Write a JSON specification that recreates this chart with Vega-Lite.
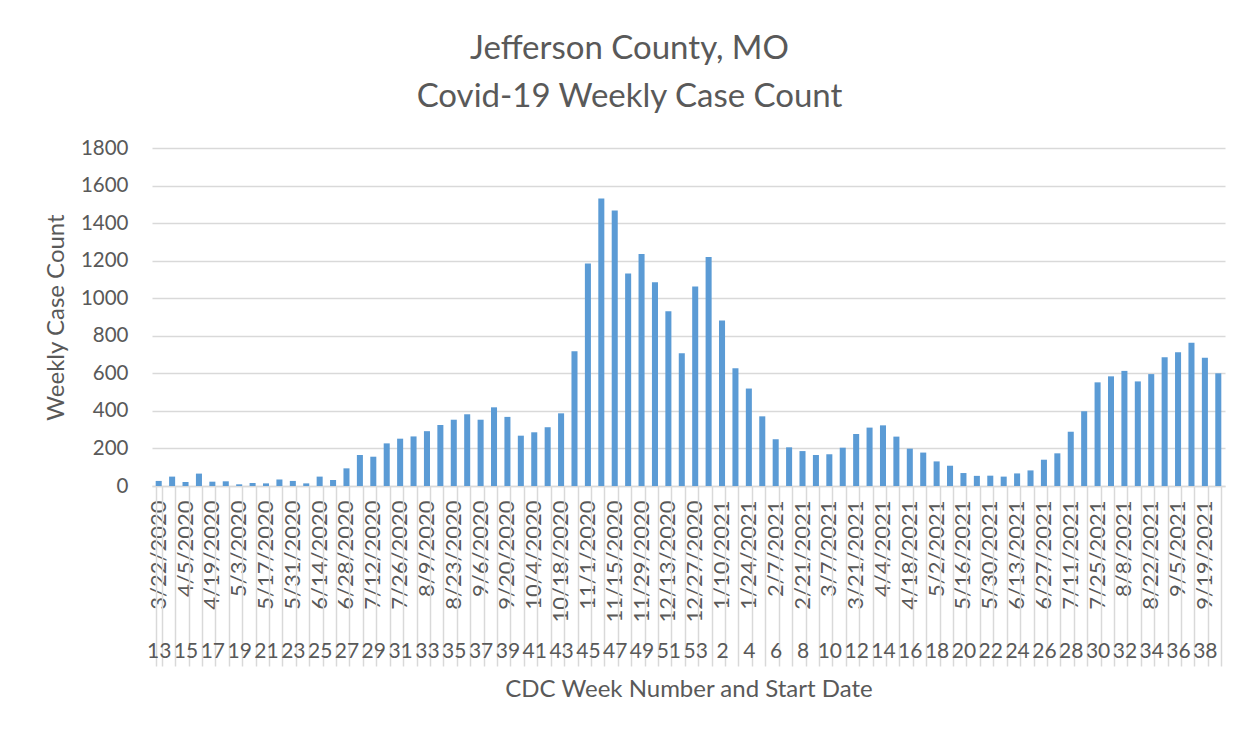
{
  "$schema": "https://vega.github.io/schema/vega-lite/v6.json",
  "autosize": "none",
  "width": 1073,
  "height": 338,
  "padding": {"left": 152, "top": 148, "right": 26, "bottom": 248},
  "background": "white",
  "title": {
    "text": ["Jefferson County, MO", "Covid-19 Weekly Case Count"],
    "font": "Lato",
    "fontSize": 33,
    "fontWeight": "normal",
    "color": "#595959",
    "anchor": "middle",
    "dx": -59,
    "offset": 24,
    "lineHeight": 48
  },
  "data": {
    "values": [
      {"key": "13|3/22/2020", "cases": 27},
      {"key": "14|3/29/2020", "cases": 50},
      {"key": "15|4/5/2020", "cases": 21},
      {"key": "16|4/12/2020", "cases": 66},
      {"key": "17|4/19/2020", "cases": 23},
      {"key": "18|4/26/2020", "cases": 25},
      {"key": "19|5/3/2020", "cases": 9},
      {"key": "20|5/10/2020", "cases": 16},
      {"key": "21|5/17/2020", "cases": 14},
      {"key": "22|5/24/2020", "cases": 34},
      {"key": "23|5/31/2020", "cases": 27},
      {"key": "24|6/7/2020", "cases": 14},
      {"key": "25|6/14/2020", "cases": 50},
      {"key": "26|6/21/2020", "cases": 32},
      {"key": "27|6/28/2020", "cases": 94},
      {"key": "28|7/5/2020", "cases": 165},
      {"key": "29|7/12/2020", "cases": 156},
      {"key": "30|7/19/2020", "cases": 227},
      {"key": "31|7/26/2020", "cases": 252},
      {"key": "32|8/2/2020", "cases": 264},
      {"key": "33|8/9/2020", "cases": 292},
      {"key": "34|8/16/2020", "cases": 325},
      {"key": "35|8/23/2020", "cases": 353},
      {"key": "36|8/30/2020", "cases": 382},
      {"key": "37|9/6/2020", "cases": 353},
      {"key": "38|9/13/2020", "cases": 419},
      {"key": "39|9/20/2020", "cases": 368},
      {"key": "40|9/27/2020", "cases": 268},
      {"key": "41|10/4/2020", "cases": 286},
      {"key": "42|10/11/2020", "cases": 313},
      {"key": "43|10/18/2020", "cases": 387},
      {"key": "44|10/25/2020", "cases": 718},
      {"key": "45|11/1/2020", "cases": 1185},
      {"key": "46|11/8/2020", "cases": 1531},
      {"key": "47|11/15/2020", "cases": 1467},
      {"key": "48|11/22/2020", "cases": 1131},
      {"key": "49|11/29/2020", "cases": 1236},
      {"key": "50|12/6/2020", "cases": 1085},
      {"key": "51|12/13/2020", "cases": 931},
      {"key": "52|12/20/2020", "cases": 707},
      {"key": "53|12/27/2020", "cases": 1062},
      {"key": "1|1/3/2021", "cases": 1220},
      {"key": "2|1/10/2021", "cases": 881},
      {"key": "3|1/17/2021", "cases": 627},
      {"key": "4|1/24/2021", "cases": 519},
      {"key": "5|1/31/2021", "cases": 371},
      {"key": "6|2/7/2021", "cases": 249},
      {"key": "7|2/14/2021", "cases": 206},
      {"key": "8|2/21/2021", "cases": 186},
      {"key": "9|2/28/2021", "cases": 165},
      {"key": "10|3/7/2021", "cases": 169},
      {"key": "11|3/14/2021", "cases": 204},
      {"key": "12|3/21/2021", "cases": 277},
      {"key": "13|3/28/2021", "cases": 311},
      {"key": "14|4/4/2021", "cases": 323},
      {"key": "15|4/11/2021", "cases": 263},
      {"key": "16|4/18/2021", "cases": 199},
      {"key": "17|4/25/2021", "cases": 178},
      {"key": "18|5/2/2021", "cases": 131},
      {"key": "19|5/9/2021", "cases": 108},
      {"key": "20|5/16/2021", "cases": 69},
      {"key": "21|5/23/2021", "cases": 54},
      {"key": "22|5/30/2021", "cases": 55},
      {"key": "23|6/6/2021", "cases": 50},
      {"key": "24|6/13/2021", "cases": 67},
      {"key": "25|6/20/2021", "cases": 83},
      {"key": "26|6/27/2021", "cases": 140},
      {"key": "27|7/4/2021", "cases": 174},
      {"key": "28|7/11/2021", "cases": 289},
      {"key": "29|7/18/2021", "cases": 398},
      {"key": "30|7/25/2021", "cases": 552},
      {"key": "31|8/1/2021", "cases": 584},
      {"key": "32|8/8/2021", "cases": 613},
      {"key": "33|8/15/2021", "cases": 557},
      {"key": "34|8/22/2021", "cases": 596},
      {"key": "35|8/29/2021", "cases": 685},
      {"key": "36|9/5/2021", "cases": 712},
      {"key": "37|9/12/2021", "cases": 763},
      {"key": "38|9/19/2021", "cases": 683},
      {"key": "39|9/26/2021", "cases": 600}
    ]
  },
  "encoding": {
    "y": {
      "field": "cases",
      "type": "quantitative",
      "scale": {"domain": [0, 1800], "nice": false},
      "axis": {
        "title": "Weekly Case Count",
        "values": [0, 200, 400, 600, 800, 1000, 1200, 1400, 1600, 1800],
        "format": "d",
        "grid": true,
        "gridColor": "#d9d9d9",
        "gridWidth": 1.5,
        "ticks": false,
        "domain": false,
        "labelFont": "Lato",
        "labelFontSize": 20.5,
        "labelColor": "#595959",
        "labelPadding": 24,
        "titleFont": "Lato",
        "titleFontSize": 24,
        "titleFontWeight": "normal",
        "titleColor": "#595959",
        "titlePadding": 12
      }
    }
  },
  "layer": [
    {
      "mark": {"type": "bar", "color": "#5B9BD5"},
      "encoding": {
        "x": {
          "field": "key",
          "type": "nominal",
          "sort": null,
          "scale": {"paddingInner": 0.55, "paddingOuter": 0.275},
          "axis": {
            "orient": "bottom",
            "title": null,
            "labelAngle": -90,
            "labelExpr": "isString(datum.value) && ((indexof(datum.value,'2020') >= 0) == (parseInt(split(datum.value,'|')[0]) % 2 == 1)) ? split(datum.value,'|')[1] : ''",
            "labelOverlap": false,
            "labelFont": "Lato",
            "labelFontSize": 22,
            "labelColor": "#595959",
            "labelPadding": 14,
            "ticks": false,
            "domain": true,
            "domainColor": "#d9d9d9",
            "domainWidth": 1.5,
            "grid": false
          }
        }
      }
    },
    {
      "mark": {"type": "bar", "opacity": 0},
      "encoding": {
        "x": {
          "field": "key",
          "type": "nominal",
          "sort": null,
          "scale": {"paddingInner": 0.55, "paddingOuter": 0.275},
          "axis": {
            "orient": "bottom",
            "title": "CDC Week Number and Start Date",
            "labelAngle": 0,
            "labelExpr": "isString(datum.value) && ((indexof(datum.value,'2020') >= 0) == (parseInt(split(datum.value,'|')[0]) % 2 == 1)) ? split(datum.value,'|')[0] : ''",
            "labelOverlap": false,
            "labelFont": "Lato",
            "labelFontSize": 21,
            "labelColor": "#595959",
            "labelPadding": -26,
            "ticks": true,
            "tickBand": "extent",
            "tickSize": 180,
            "tickColor": "#d9d9d9",
            "tickWidth": 1.5,
            "domain": false,
            "grid": false,
            "titleFont": "Lato",
            "titleFontSize": 24,
            "titleFontWeight": "normal",
            "titleColor": "#595959",
            "titlePadding": 11
          }
        }
      }
    }
  ],
  "resolve": {"axis": {"x": "independent"}},
  "config": {"view": {"stroke": null}}
}
